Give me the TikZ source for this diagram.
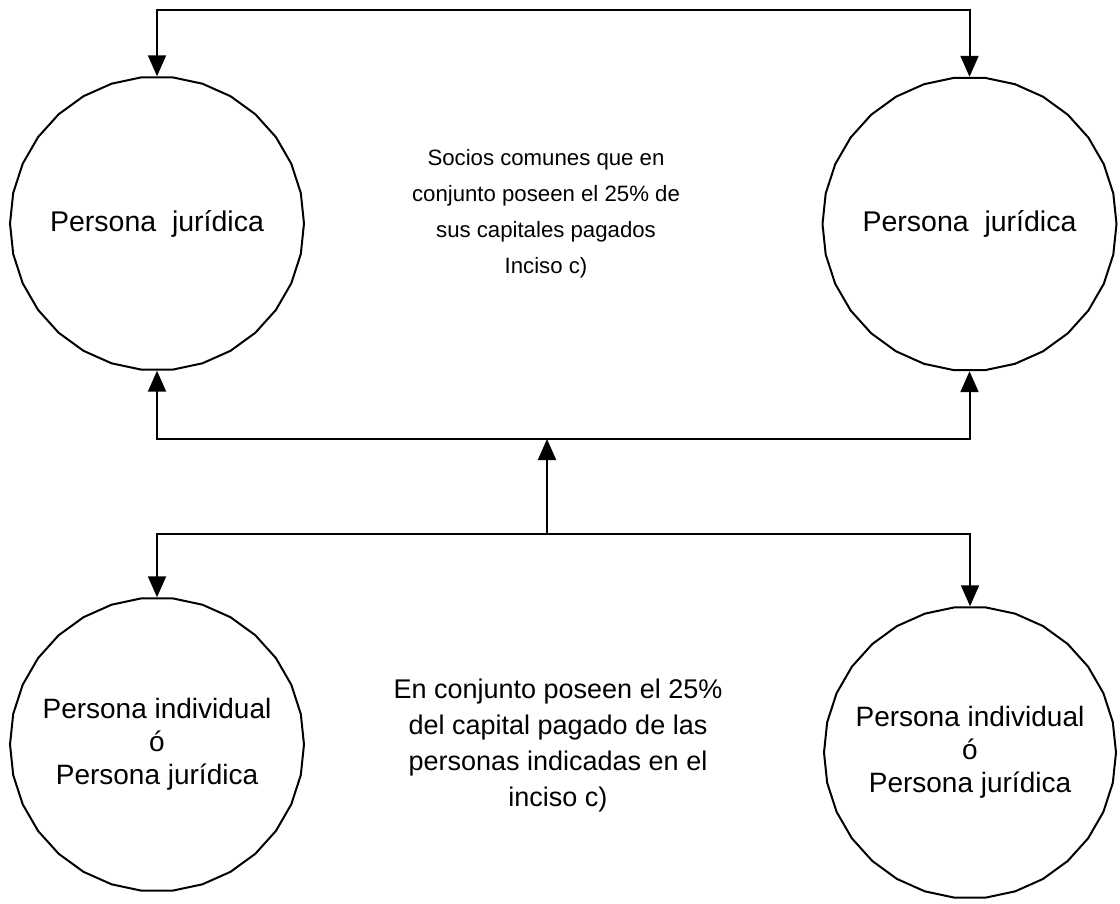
\documentclass[tikz,border=0pt]{standalone}
\usepackage{fontspec}
\setmainfont{Liberation Sans}
\usetikzlibrary{shapes.geometric,arrows.meta}
\begin{document}
\begin{tikzpicture}[x=1pt,y=-1pt,
  entity/.style={draw, line width=2pt, regular polygon, regular polygon sides=30,
    minimum size=294pt, inner sep=-25pt, align=center,
    font=\fontsize{28}{33}\selectfont},
  note/.style={align=center, inner sep=0pt},
  head/.tip={Triangle[length=21pt,width=18pt]},
  oneway/.style={line width=2pt, -head},
  twoway/.style={line width=2pt, head-head}]
\useasboundingbox (0,0) rectangle (1120,903);

% the four parties
\node[entity, font=\fontsize{28.5}{34}\selectfont] (tl) at (157,223.5) {Persona~~jurídica};
\node[entity, font=\fontsize{28.5}{34}\selectfont] (tr) at (969.5,224) {Persona~~jurídica};
\node[entity] (bl) at (157,744.5) {Persona individual\\ó\\Persona jurídica};
\node[entity, minimum size=292pt] (br) at (970,752.5) {Persona individual\\ó\\Persona jurídica};

% bus levels
\coordinate (topbar) at (0,10);
\coordinate (midbar) at (0,439);
\coordinate (hub) at (547,534);

% connectors
\draw[twoway] (tl.north) -- (tl.north |- topbar) -- (tr.north |- topbar) -- (tr.north);
\draw[twoway] (tl.south) -- (tl.south |- midbar) -- (tr.south |- midbar) -- (tr.south);
\draw[oneway] (hub) -- (hub |- midbar);
\draw[twoway] (bl.north) -- (bl.north |- hub) -- (br.north |- hub) -- (br.north);

% explanatory texts
\node[note, font=\fontsize{22.2}{36}\selectfont] (t1) at (546,214)
  {Socios comunes que en\\conjunto poseen el 25\% de\\sus capitales pagados\\Inciso c)};
\node[note, font=\fontsize{27}{36}\selectfont] (t2) at (558,746)
  {En conjunto poseen el 25\%\\del capital pagado de las\\personas indicadas en el\\inciso c)};
\end{tikzpicture}
\end{document}
